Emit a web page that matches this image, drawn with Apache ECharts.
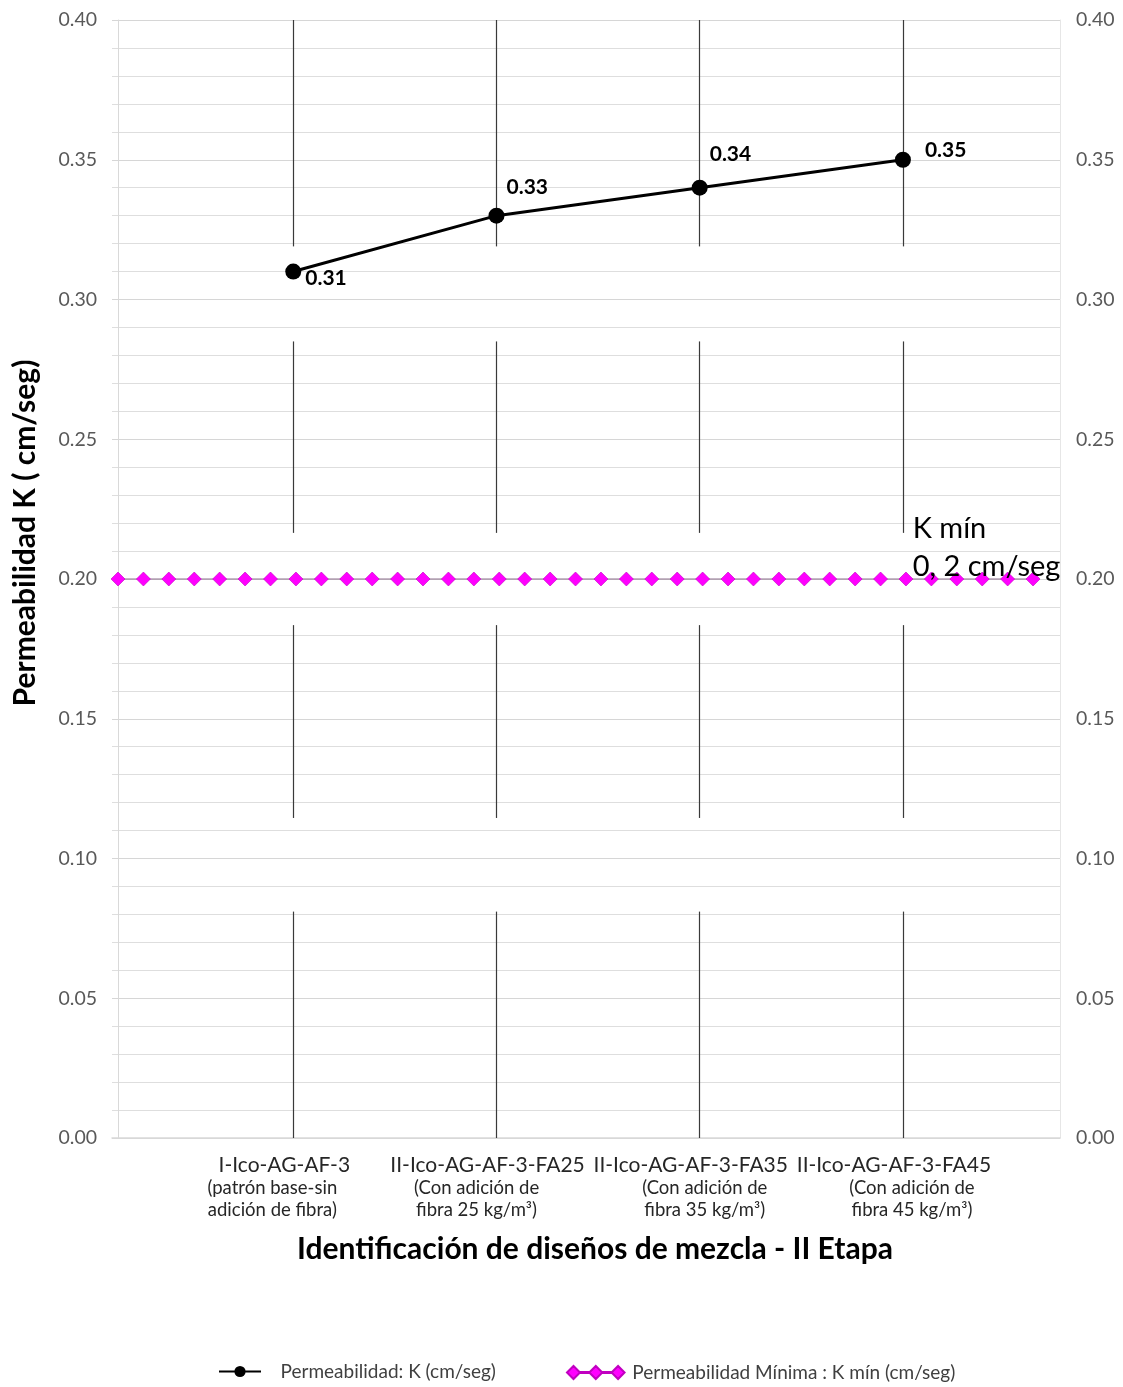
<!DOCTYPE html>
<html>
<head>
<meta charset="utf-8">
<script src="https://cdn.jsdelivr.net/npm/echarts@6/dist/echarts.min.js"></script>
<style>
  html, body { margin: 0; padding: 0; background: #fff; }
  #chart { width: 1123px; height: 1387px; }
</style>
</head>
<body>
<div id="chart"></div>
<script>
// mix designs (x axis)
const categories = ['I-Ico-AG-AF-3', 'II-Ico-AG-AF-3-FA25', 'II-Ico-AG-AF-3-FA35', 'II-Ico-AG-AF-3-FA45'];
const categoryNotes = [
  ['(patrón base-sin', 'adición de fibra)'],
  ['(Con adición de', 'fibra 25 kg/m³)'],
  ['(Con adición de', 'fibra 35 kg/m³)'],
  ['(Con adición de', 'fibra 45 kg/m³)']
];
// permeability K (cm/seg)
const permeability = [0.31, 0.33, 0.34, 0.35];
// minimum K line, drawn on its own axis with 37 points
const kMin = [
  0.20, 0.20, 0.20, 0.20, 0.20, 0.20, 0.20, 0.20, 0.20, 0.20,
  0.20, 0.20, 0.20, 0.20, 0.20, 0.20, 0.20, 0.20, 0.20, 0.20,
  0.20, 0.20, 0.20, 0.20, 0.20, 0.20, 0.20, 0.20, 0.20, 0.20,
  0.20, 0.20, 0.20, 0.20, 0.20, 0.20, 0.20
];
// pieces of the vertical lines at each design (they are broken in the original)
const vlinePieces = [[0.40, 0.319], [0.285, 0.2165], [0.1835, 0.1145], [0.081, 0]];

const FONT = 'Lato';
const chart = echarts.init(document.getElementById('chart'));

// vertical lines through each category
const vlines = [];
categories.forEach((c, i) => {
  vlinePieces.forEach(p => {
    vlines.push([{ coord: [i + 1, p[0]] }, { coord: [i + 1, p[1]] }]);
  });
});

// label placement next to each point
const labelOffsets = [[0, 7], [-2, -28], [-2, -33], [10, -10]];

// the tick text boxes sit a bit off centre in the original
const noteRich = {
  n0: { padding: [0, 24, 0, 0] },
  n1: { padding: [0, 22, 0, 0] },
  n2: { padding: [0, 0, 0, 28] },
  n3: { padding: [0, 0, 0, 36] }
};
Object.keys(noteRich).forEach(k => {
  Object.assign(noteRich[k], { fontSize: 18.5, lineHeight: 22, color: '#262626', fontFamily: FONT });
});

const X_MIN = 0.108, X_MAX = 4.773, LABEL_SHIFT = 0.044;

const option = {
  backgroundColor: '#fff',
  animation: false,
  textStyle: { fontFamily: FONT },
  grid: { left: 112, right: 63, top: 20, bottom: 249 },
  legend: [
    {
      left: 218, top: 1362, padding: 0,
      itemWidth: 42, itemHeight: 14,
      textStyle: { fontSize: 19, color: '#404040', fontFamily: FONT },
      formatter: n => '   ' + n,
      data: ['Permeabilidad: K (cm/seg)']
    },
    {
      left: 566, top: 1363, padding: 0,
      itemWidth: 63, itemHeight: 13,
      textStyle: { fontSize: 19, color: '#404040', fontFamily: FONT },
      data: [{
        name: 'Permeabilidad Mínima : K mín (cm/seg)',
        icon: 'path://M0 7L7 0L14 7L7 14Z M24 7L31 0L38 7L31 14Z M48 7L55 0L62 7L55 14Z M14 6.5L24 6.5L24 7.5L14 7.5Z M38 6.5L48 6.5L48 7.5L38 7.5Z'
      }]
    }
  ],
  xAxis: [
    {
      type: 'value',
      min: X_MIN, max: X_MAX,
      axisLine: { show: true, lineStyle: { color: '#d9d9d9', width: 1.5 } },
      axisTick: { show: false },
      splitLine: { show: false },
      axisLabel: { show: false },
      name: 'Identificación de diseños de mezcla - II Etapa',
      nameLocation: 'middle',
      nameGap: 96,
      nameTextStyle: { fontSize: 30, fontWeight: 'bold', color: '#000', fontFamily: FONT, padding: [0, 0, 0, 18] }
    },
    {
      type: 'value',
      min: -0.236, max: 37.06,
      show: false
    },
    {
      // same scale as the first axis, nudged so the tick text sits a little left
      type: 'value',
      position: 'bottom',
      min: X_MIN + LABEL_SHIFT, max: X_MAX + LABEL_SHIFT,
      axisLine: { show: false },
      axisTick: { show: false },
      splitLine: { show: false },
      axisLabel: {
        customValues: [1, 2, 3, 4],
        hideOverlap: false,
        margin: 15,
        formatter: v => {
          const i = Math.round(v) - 1;
          if (i < 0 || i >= categories.length) return '';
          const n = 'n' + i;
          return '{a|' + categories[i] + '}\n{' + n + '|' + categoryNotes[i][0] + '}\n{' + n + '|' + categoryNotes[i][1] + '}';
        },
        rich: Object.assign({
          a: { fontSize: 21, lineHeight: 24, color: '#262626', fontFamily: FONT }
        }, noteRich)
      }
    }
  ],
  yAxis: [
    {
      type: 'value',
      position: 'left',
      min: 0, max: 0.4, interval: 0.05,
      axisLine: { show: true, lineStyle: { color: '#d9d9d9' } },
      axisTick: { show: false },
      axisLabel: { fontSize: 19.5, color: '#595959', margin: 15, formatter: v => v.toFixed(2) },
      splitLine: { show: true, lineStyle: { color: '#d6d6d6', width: 1.2 } },
      minorTick: { show: false, splitNumber: 5 },
      minorSplitLine: { show: true, lineStyle: { color: '#dedede', width: 1 } }
    },
    {
      type: 'value',
      position: 'right',
      min: 0, max: 0.4, interval: 0.05,
      axisLine: { show: true, lineStyle: { color: '#e6e6e6' } },
      axisTick: { show: false },
      axisLabel: { fontSize: 19.5, color: '#595959', margin: 16, formatter: v => v.toFixed(2) },
      splitLine: { show: false }
    }
  ],
  graphic: [{
    type: 'text',
    x: 25, y: 533,
    rotation: Math.PI / 2,
    style: {
      text: 'Permeabilidad K ( cm/seg)',
      fontSize: 30, fontWeight: 'bold', fill: '#000', fontFamily: FONT,
      align: 'center', verticalAlign: 'middle'
    }
  }],
  series: [
    {
      name: 'Permeabilidad Mínima : K mín (cm/seg)',
      type: 'line',
      xAxisIndex: 1,
      yAxisIndex: 0,
      z: 3,
      showAllSymbol: true,
      symbol: 'diamond',
      symbolSize: 14,
      itemStyle: { color: '#ff00ff', borderColor: '#c000c0', borderWidth: 0.6 },
      lineStyle: { color: '#8c6f8c', width: 1 },
      data: kMin.map((v, i) => {
        const d = { value: [i, v] };
        if (i === 31) {
          d.label = {
            show: true,
            position: [14, -62],
            formatter: 'K mín\n0, 2 cm/seg',
            fontSize: 29, lineHeight: 38, color: '#000', fontFamily: FONT
          };
        }
        return d;
      })
    },
    {
      name: 'Permeabilidad: K (cm/seg)',
      type: 'line',
      xAxisIndex: 0,
      yAxisIndex: 0,
      z: 4,
      symbol: 'circle',
      symbolSize: 16,
      itemStyle: { color: '#000' },
      lineStyle: { color: '#000', width: 3 },
      label: {
        show: true,
        position: 'right',
        distance: 4,
        fontSize: 21, fontWeight: 'bold', color: '#000', fontFamily: FONT,
        formatter: p => p.value[1].toFixed(2)
      },
      data: permeability.map((v, i) => ({
        value: [i + 1, v],
        label: { offset: labelOffsets[i] }
      })),
      markLine: {
        silent: true,
        symbol: 'none',
        label: { show: false },
        lineStyle: { color: '#3a3a3a', width: 1.2, type: 'solid' },
        z: 1,
        data: vlines
      }
    }
  ]
};

chart.setOption(option);
</script>
</body>
</html>
